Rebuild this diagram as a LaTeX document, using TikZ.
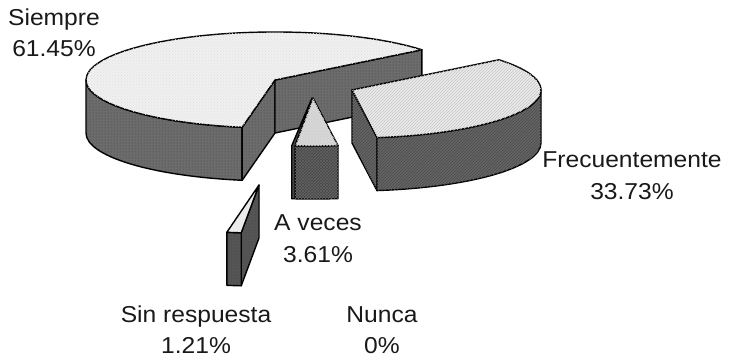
\documentclass[tikz,border=0pt]{standalone}
\usepackage{fontspec}
\setmainfont{Liberation Sans}[FakeStretch=1.07]
\usetikzlibrary{calc,patterns}
\definecolor{sTop}{HTML}{F0F0F0}
\definecolor{sSide}{HTML}{6C6C6C}
\definecolor{fTop}{HTML}{EAEAEA}
\definecolor{fSide}{HTML}{646464}
\definecolor{aTop}{HTML}{DADADA}
\definecolor{aSide}{HTML}{454545}
\definecolor{rTop}{HTML}{EBEBEB}
\definecolor{rSide}{HTML}{555555}
\begin{document}
\begin{tikzpicture}[x=1pt,y=1pt,
  edge/.style={draw=black,line width=1.4pt,line join=round},
  ell/.style={x radius=189pt,y radius=48pt},
  dotted side/.style={edge,fill=#1,postaction={pattern=dots,pattern color=black!75}},
  hatched side/.style={edge,fill=#1,postaction={pattern=north east lines,pattern color=black!70}},
  light top/.style={edge,fill=#1,postaction={pattern=crosshatch dots,pattern color=black!12}},
  lbl/.style={anchor=base,inner sep=0pt,font=\fontsize{23}{28}\selectfont,text=black!90}]
\useasboundingbox (0,0) rectangle (730,359);
\coordinate (S) at (275,279);
\coordinate (F) at (352,269);
\coordinate (A) at (313,261);
\coordinate (R) at (259,174);
% Siempre
\path[dotted side=sSide] ($(S)+(180:189pt and 48pt)$) arc[start angle=180,end angle=260,ell] -- ++(0,-53pt) arc[start angle=260,end angle=180,ell] -- cycle;
\path[dotted side=sSide] (S) -- ($(S)+(260:189pt and 48pt)$) -- ++(0,-53pt) -- ($(S)+(0,-53pt)$) -- cycle;
\path[dotted side=sSide] (S) -- ($(S)+(39:189pt and 48pt)$) -- ++(0,-53pt) -- ($(S)+(0,-53pt)$) -- cycle;
\path[light top=sTop] (S) -- ($(S)+(39:189pt and 48pt)$) arc[start angle=39,end angle=260,ell] -- cycle;
% Frecuentemente
\path[hatched side=fSide] (F) -- ($(F)+(-82.4:189pt and 48pt)$) -- ++(0,-53pt) -- ($(F)+(0,-53pt)$) -- cycle;
\path[hatched side=fSide] ($(F)+(-82.4:189pt and 48pt)$) arc[start angle=-82.4,end angle=0,ell] -- ++(0,-53pt) arc[start angle=0,end angle=-82.4,ell] -- cycle;
\path[edge,fill=fTop,postaction={pattern=north east lines,pattern color=black!22}] (F) -- ($(F)+(-82.4:189pt and 48pt)$) arc[start angle=-82.4,end angle=39,ell] -- cycle;
% A veces
\path[dotted side=aSide] ($(A)+(-1pt,0)$) -- ($(A)+(-95.4:189pt and 48pt)+(-3.5pt,0)$) -- ++(0,-53pt) -- ($(A)+(-95.4:189pt and 48pt)+(0,-53pt)$) -- ($(A)+(-95.4:189pt and 48pt)$) -- cycle;
\path[edge,fill=aSide,postaction={pattern=crosshatch,pattern color=black!60}] ($(A)+(-95.4:189pt and 48pt)$) arc[start angle=-95.4,end angle=-82.4,ell] -- ++(0,-53pt) arc[start angle=-82.4,end angle=-95.4,ell] -- cycle;
\path[edge,fill=aTop,postaction={pattern=crosshatch,pattern color=black!18}] (A) -- ($(A)+(-95.4:189pt and 48pt)$) arc[start angle=-95.4,end angle=-82.4,ell] -- cycle;
% Sin respuesta
\path[dotted side=rSide] (R) -- ($(R)+(-95.4:189pt and 48pt)$) -- ++(0,-53pt) -- ($(R)+(0,-53pt)$) -- cycle;
\path[dotted side=rSide] ($(R)+(-99.8:189pt and 48pt)$) arc[start angle=-99.8,end angle=-95.4,ell] -- ++(0,-53pt) arc[start angle=-95.4,end angle=-99.8,ell] -- cycle;
\path[edge,fill=rTop] (R) -- ($(R)+(-99.8:189pt and 48pt)$) arc[start angle=-99.8,end angle=-95.4,ell] -- cycle;
% Labels
\node[lbl] (siempre) at (54,333) {Siempre};
\node[lbl] (siempreP) at (54,302) {61.45\%};
\node[lbl] (frec) at (632,191) {Frecuentemente};
\node[lbl] (frecP) at (632,159) {33.73\%};
\node[lbl] (aveces) at (318,129) {A veces};
\node[lbl] (avecesP) at (318,97) {3.61\%};
\node[lbl] (sinr) at (196,37) {Sin respuesta};
\node[lbl] (sinrP) at (196,6) {1.21\%};
\node[lbl] (nunca) at (382,37) {Nunca};
\node[lbl] (nuncaP) at (382,6) {0\%};
\end{tikzpicture}
\end{document}
